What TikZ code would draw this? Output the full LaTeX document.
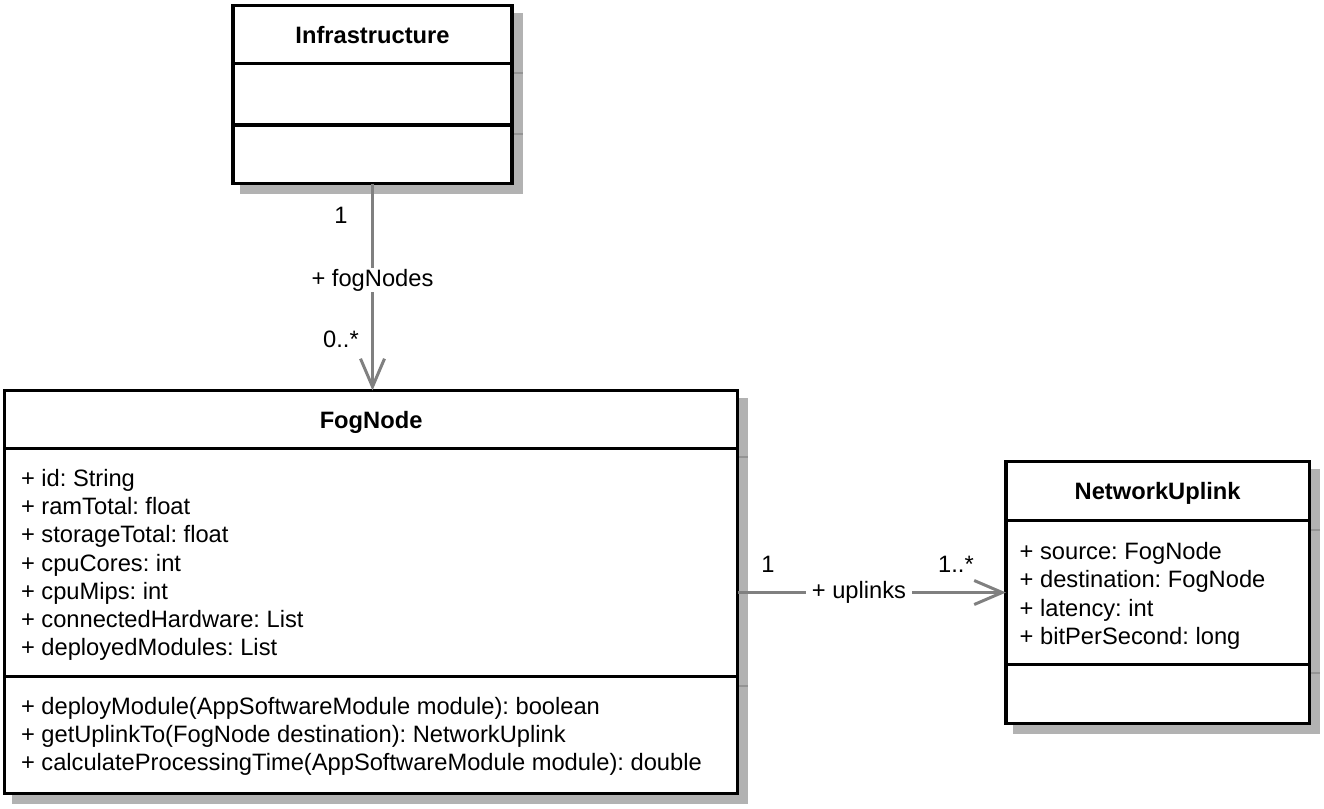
\documentclass[tikz,border=0pt]{standalone}
\usepackage{fontspec}
\setmainfont{Liberation Sans}
\usetikzlibrary{arrows.meta}
\colorlet{shadowcol}{black!30}
\colorlet{tickcol}{black!42}
\colorlet{linkcol}{black!50}
\tikzset{>={Straight Barb[length=28pt,width=24pt]}}
\newcommand{\umlfont}{\fontsize{23.7}{28.2}\selectfont\frenchspacing}

\begin{document}
\begin{tikzpicture}[x=1pt,y=-1pt,
    classbox/.style={rectangle, draw=black, line width=3.3pt, fill=white, inner sep=0pt, outer sep=0pt},
    partline/.style={draw=black, line width=3.3pt},
    shadebox/.style={fill=shadowcol, draw=none},
    shadetick/.style={draw=tickcol, line width=2pt},
    classname/.style={anchor=base, inner sep=0pt, font=\umlfont\bfseries},
    member/.style={anchor=base west, inner sep=0pt, font=\umlfont},
    mult/.style={anchor=base, inner sep=0pt, font=\umlfont},
    rolename/.style={fill=white, inner xsep=6pt, inner ysep=0.5pt, font=\umlfont},
    link/.style={draw=linkcol, line width=3pt, ->}]
    \useasboundingbox (0,0) rectangle (1324,808);

    % shadows
    \fill[shadebox] (240.4,12.9) rectangle (522.7,194.2);
    \fill[shadebox] (12.1,397.9) rectangle (748.2,804.0);
    \fill[shadebox] (1013.4,469.1) rectangle (1320.0,734.0);
    \draw[shadetick] (513.6,72.5) -- (522.7,72.5);
    \draw[shadetick] (513.6,134) -- (522.7,134);
    \draw[shadetick] (739.2,457.3) -- (748.2,457.3);
    \draw[shadetick] (739.2,685.7) -- (748.2,685.7);
    \draw[shadetick] (1311,529.7) -- (1320,529.7);
    \draw[shadetick] (1311,673.3) -- (1320,673.3);

    % Infrastructure
    \node[classbox, minimum width=279pt, minimum height=178pt] (infra) at (372.5,94.5) {};
    \draw[partline] (233,63.5) -- (512,63.5);
    \draw[partline] (233,125) -- (512,125);
    \node[classname] (infraname) at (372.5,43.3) {Infrastructure};

    % FogNode
    \node[classbox, minimum width=732.8pt, minimum height=402.8pt] (fog) at (371.1,591.9) {};
    \draw[partline] (4.7,448.3) -- (737.5,448.3);
    \draw[partline] (4.7,676.7) -- (737.5,676.7);
    \node[classname] (fogname) at (371.1,428.5) {FogNode};
    \foreach \t [count=\i from 0] in {{+ id: String}, {+ ramTotal: float}, {+ storageTotal: float},
        {+ cpuCores: int}, {+ cpuMips: int}, {+ connectedHardware: List}, {+ deployedModules: List}}
        \node[member] (fogattr\i) at (20.8,486.5+28.2*\i) {\t};
    \foreach \t [count=\i from 0] in {{+ deployModule(AppSoftwareModule module): boolean},
        {+ getUplinkTo(FogNode destination): NetworkUplink},
        {+ calculateProcessingTime(AppSoftwareModule module): double}}
        \node[member] (fogop\i) at (20.8,714.5+28.2*\i) {\t};

    % NetworkUplink
    \node[classbox, minimum width=303.3pt, minimum height=261.6pt] (uplink) at (1157.65,592.5) {};
    \draw[partline] (1006,520.7) -- (1309.3,520.7);
    \draw[partline] (1006,664.3) -- (1309.3,664.3);
    \node[classname] (uplinkname) at (1157.65,499.8) {NetworkUplink};
    \foreach \t [count=\i from 0] in {{+ source: FogNode}, {+ destination: FogNode},
        {+ latency: int}, {+ bitPerSecond: long}}
        \node[member] (uplinkattr\i) at (1019.5,559.6+28.2*\i) {\t};

    % Infrastructure to FogNode
    \draw[link] (infra.south) -- (infra.south |- fog.north)
        node[pos=0.466, rolename] (fogrole) {+ fogNodes};
    \node[mult] (infrasrc) at (341,223.3) {1};
    \node[mult] (infradst) at (341,347) {0..*};

    % FogNode to NetworkUplink
    \draw[link] (fog.east |- uplink.west) -- (uplink.west)
        node[pos=0.4525, rolename] (uplinkrole) {+ uplinks};
    \node[mult] (fogsrc) at (768,572) {1};
    \node[mult] (fogdst) at (956,572) {1..*};
\end{tikzpicture}
\end{document}
